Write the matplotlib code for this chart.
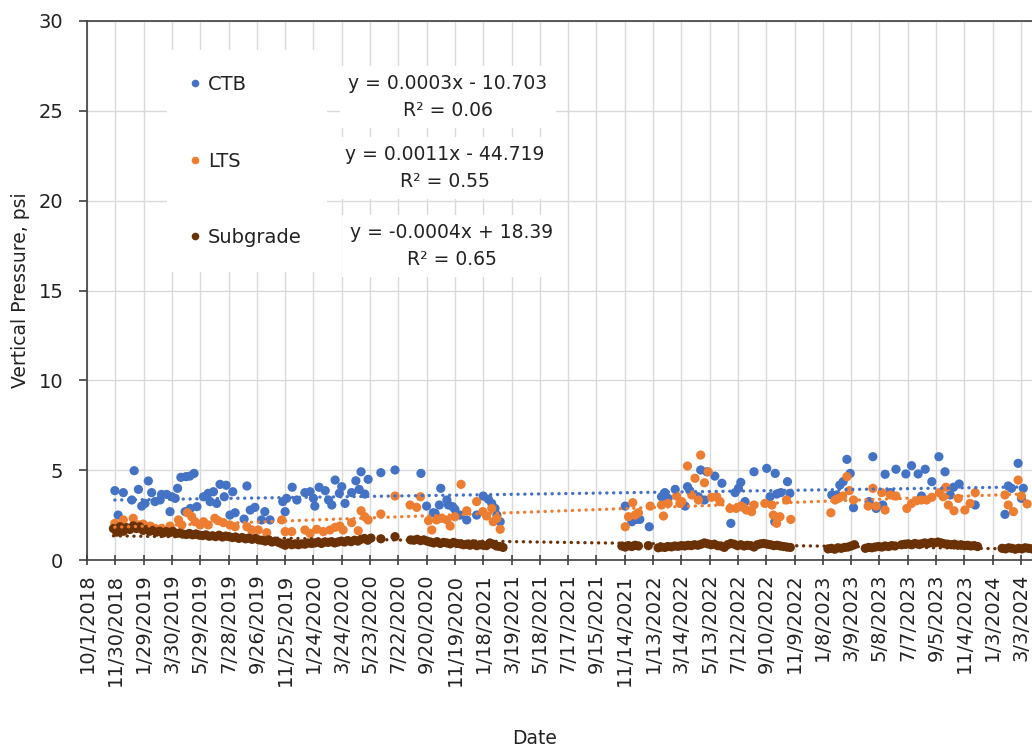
import numpy as np
import pandas as pd
import matplotlib
matplotlib.use("Agg")
import matplotlib.pyplot as plt
from matplotlib.lines import Line2D

START = pd.Timestamp("2018-10-01")

# readings as (days after 10/1/2018, vertical pressure in psi)
ctb_day = [59, 66, 77, 95, 100, 109, 116, 123, 130, 137, 144, 155, 158, 169, 176, 180,
           187, 192, 199, 208, 210, 218, 219, 227, 233, 247, 257, 261, 268, 275, 282, 291,
           295, 303, 309, 314, 333, 339, 346, 356, 370, 377, 388, 415, 420, 423, 435, 445,
           462, 473, 480, 483, 492, 505, 512, 519, 526, 535, 540, 547, 561, 570, 577, 581,
           589, 596, 623, 653, 708, 720, 734, 738, 747, 750, 763, 766, 775, 780, 791, 805,
           826, 840, 851, 858, 865, 869, 876,
           1141, 1155, 1165, 1172, 1192, 1218, 1225, 1232, 1247, 1268, 1273, 1278, 1296,
           1301, 1309, 1314, 1331, 1346, 1365, 1374, 1381, 1386, 1395, 1414, 1441, 1448,
           1458, 1459, 1462, 1471, 1485, 1490,
           1579, 1589, 1596, 1603, 1611, 1618, 1625, 1658, 1666, 1673, 1687, 1692, 1703,
           1715, 1736, 1748, 1762, 1769, 1777, 1791, 1806, 1819, 1830, 1837, 1849, 1883,
           1946, 1953, 1960, 1974, 1981, 1985]
ctb_psi = [3.86, 2.50, 3.75, 3.34, 4.97, 3.93, 3.00, 3.15, 4.40, 3.75, 3.25, 3.34, 3.65,
           3.65, 2.69, 3.52, 3.43, 3.99, 4.60, 2.69, 4.64, 4.67, 2.87, 4.82, 2.97, 3.52,
           3.71, 3.25, 3.80, 3.15, 4.21, 3.52, 4.16, 2.50, 3.80, 2.63, 2.28, 4.12, 2.78,
           2.93, 2.23, 2.69, 2.23, 3.25, 2.69, 3.43, 4.05, 3.34, 3.75, 3.80, 3.43, 3.00,
           4.05, 3.86, 3.34, 3.06, 4.45, 3.71, 4.08, 3.15, 3.75, 4.41, 3.93, 4.91, 3.67,
           4.49, 4.86, 5.01, 4.82, 3.00, 2.63, 2.60, 3.06, 3.99, 3.34, 3.06, 2.97, 2.82,
           2.50, 2.23, 2.50, 3.56, 3.38, 3.15, 2.87, 2.50, 2.13,
           3.00, 2.13, 2.26, 2.26, 1.85, 3.52, 3.75, 3.43, 3.93, 3.00, 4.08, 3.86, 3.52,
           5.01, 3.34, 4.91, 4.67, 4.27, 2.04, 3.75, 3.99, 4.32, 3.25, 4.91, 5.10, 3.52,
           2.13, 4.82, 3.67, 3.75, 4.36, 3.71,
           3.62, 3.62, 4.17, 4.36, 5.60, 4.82, 2.91, 3.25, 5.75, 2.87, 3.06, 4.77, 3.75,
           5.05, 4.79, 5.25, 4.79, 3.56, 5.05, 4.36, 5.75, 4.91, 3.62, 4.05, 4.23, 3.06,
           2.54, 4.12, 3.99, 5.38, 3.43, 3.99]

lts_day = [59, 66, 77, 98, 109, 119, 134, 144, 158, 176, 194, 201, 213, 222, 229, 240,
           247, 257, 271, 278, 289, 303, 314, 339, 349, 363, 381, 413, 420, 434, 462, 473,
           487, 501, 515, 526, 536, 543, 561, 575, 581, 589, 596, 623, 653, 685, 699, 707,
           724, 731, 741, 752, 763, 770, 780, 793, 805, 826, 839, 847, 858, 861, 869, 876,
           1141, 1148, 1157, 1162, 1169, 1194, 1218, 1222, 1232, 1250, 1257, 1261, 1273,
           1282, 1289, 1296, 1301, 1309, 1317, 1324, 1335, 1342, 1363, 1376, 1386, 1391,
           1398, 1409, 1414, 1437, 1452, 1455, 1462, 1469, 1483, 1492,
           1577, 1586, 1593, 1602, 1611, 1616, 1625, 1656, 1666, 1673, 1685, 1692, 1703,
           1715, 1738, 1748, 1759, 1769, 1780, 1791, 1807, 1815, 1821, 1826, 1838, 1847,
           1861, 1872, 1883,
           1946, 1953, 1964, 1974, 1981, 1993]
lts_psi = [2.04, 1.71, 2.23, 2.32, 1.95, 2.00, 1.89, 1.76, 1.76, 1.89, 2.23, 1.95, 2.63,
           2.41, 2.13, 1.95, 2.13, 1.95, 2.32, 2.19, 2.08, 1.95, 1.85, 1.85, 1.67, 1.67,
           1.52, 2.23, 1.58, 1.58, 1.67, 1.48, 1.71, 1.58, 1.67, 1.82, 1.89, 1.67, 2.08,
           1.63, 2.74, 2.41, 2.23, 2.56, 3.56, 3.06, 2.93, 3.52, 2.19, 1.67, 2.23, 2.32,
           2.23, 1.89, 2.41, 4.21, 2.74, 3.25, 2.69, 2.45, 2.87, 2.13, 2.32, 1.71,
           1.85, 2.41, 3.19, 2.50, 2.63, 3.00, 3.06, 2.45, 3.15, 3.56, 3.15, 3.25, 5.23,
           3.62, 4.55, 3.34, 5.84, 4.30, 4.91, 3.49, 3.52, 3.25, 2.87, 2.87, 3.00, 2.93,
           2.78, 2.69, 3.06, 3.15, 3.06, 2.50, 2.04, 2.41, 3.34, 2.26,
           2.63, 3.34, 3.43, 3.56, 4.64, 3.86, 3.34, 3.00, 3.99, 3.00, 3.75, 2.78, 3.62,
           3.56, 2.87, 3.15, 3.30, 3.34, 3.34, 3.49, 3.75, 3.52, 4.05, 3.06, 2.74, 3.43,
           2.78, 3.15, 3.75,
           3.62, 3.06, 2.69, 4.45, 3.56, 3.12]

# subgrade was read about weekly: each run starts on a day and steps 7 days
sub_start = [56, 623, 653, 686, 1134, 1190, 1211, 1571, 1650, 1727, 1940]
sub_psi = [
    [1.75, 1.55, 1.85, 1.60, 1.80, 1.70, 1.90, 1.75, 1.85, 1.65, 1.70,
     1.60, 1.65, 1.55, 1.60, 1.50, 1.58, 1.52, 1.60, 1.48,
     1.50, 1.45, 1.42, 1.48, 1.40, 1.45, 1.38,
     1.36, 1.40, 1.32, 1.35, 1.30, 1.38, 1.28, 1.33, 1.30,
     1.25, 1.28, 1.20, 1.25, 1.18, 1.22, 1.15, 1.20, 1.12,
     1.10, 1.05, 1.12, 1.00, 1.05, 0.98,
     0.90, 0.82, 0.95, 0.85, 0.90, 0.85, 0.90, 0.88, 0.95, 0.92,
     0.95, 1.00, 0.92, 1.00, 0.98, 1.02, 0.95, 1.00, 1.05, 1.00, 1.08, 1.02, 1.10, 1.05,
     1.15, 1.20, 1.10, 1.22],
    [1.18],
    [1.30],
    [1.12, 1.10, 1.15, 1.08, 1.12, 1.05, 1.00, 0.95, 1.02, 0.92, 0.98,
     0.95, 0.90, 0.98, 0.92, 0.90, 0.85, 0.88, 0.82, 0.90, 0.80, 0.85,
     0.82, 0.80, 0.95, 0.88, 0.78, 0.75, 0.70],
    [0.78, 0.72, 0.80, 0.75, 0.82, 0.78],
    [0.80],
    [0.68, 0.72, 0.70, 0.75, 0.73, 0.78, 0.76, 0.80, 0.78, 0.82,
     0.80, 0.85, 0.82, 0.88, 0.95, 0.90, 0.85, 0.88, 0.80, 0.78,
     0.70, 0.85, 0.92, 0.88, 0.80, 0.85, 0.78, 0.82, 0.80, 0.72,
     0.85, 0.90, 0.92, 0.88, 0.85, 0.80, 0.82, 0.78, 0.75, 0.72, 0.70],
    [0.62, 0.65, 0.60, 0.68, 0.65, 0.70, 0.72, 0.78, 0.85],
    [0.65, 0.70, 0.68, 0.72, 0.75, 0.72, 0.78, 0.75, 0.80, 0.78],
    [0.85, 0.88, 0.90, 0.85, 0.92, 0.88, 0.90, 0.95, 0.92, 0.98, 0.95, 1.00,
     0.95, 0.90, 0.88, 0.85, 0.88, 0.82, 0.85, 0.80, 0.82, 0.78, 0.80, 0.75],
    [0.65, 0.62, 0.68, 0.65, 0.60, 0.65, 0.62, 0.68, 0.65, 0.62, 0.60],
]

series_names = ["CTB", "LTS", "Subgrade"]
series_colors = ["#4472C4", "#ED7D31", "#6B3106"]
equations = ["y = 0.0003x - 10.703\nR\u00b2 = 0.06",
             "y = 0.0011x - 44.719\nR\u00b2 = 0.55",
             "y = -0.0004x + 18.39\nR\u00b2 = 0.65"]


def to_dates(days):
    return START + pd.to_timedelta(np.asarray(days, dtype=float), unit="D")


sub_day = []
sub_val = []
for s, vals in zip(sub_start, sub_psi):
    sub_day += [s + 7 * i for i in range(len(vals))]
    sub_val += vals

data = [(ctb_day, ctb_psi), (lts_day, lts_psi), (sub_day, sub_val)]

W, H = 1032, 748
fig = plt.figure(figsize=(W / 100, H / 100), dpi=100)
px_day = 0.4717
x_max = 2030
ax = fig.add_axes([87 / W, 188 / H, x_max * px_day / W, 539 / H])

for (d, v), c in zip(data, series_colors):
    ax.scatter(to_dates(d), v, s=44, color=c, edgecolors="none", zorder=3)

# linear trendlines, dotted like Excel
for (d, v), c in zip(data, series_colors):
    d = np.asarray(d, dtype=float)
    k, b = np.polyfit(d, v, 1)
    xs = np.array([d.min(), d.max()])
    ax.plot(to_dates(xs), k * xs + b, color=c, lw=2.4,
            ls=(0, (0.05, 2.0)), dash_capstyle="round", zorder=4)

ax.set_xlim(START, START + pd.Timedelta(days=x_max))
ax.set_ylim(0, 30)
ax.set_yticks(range(0, 31, 5))

ticks = [START + pd.Timedelta(days=60 * k) for k in range(34)]
ax.set_xticks(ticks)
ax.set_xticklabels([f"{t.month}/{t.day}/{t.year}" for t in ticks], rotation=90)

ax.grid(True, color="#d9d9d9", lw=1)
ax.set_axisbelow(True)
for side in ["left", "bottom", "top"]:
    ax.spines[side].set_color("#404040")
    ax.spines[side].set_linewidth(1.2)
ax.spines["right"].set_visible(False)

ax.tick_params(axis="y", direction="out", length=6, width=1.2, color="#404040",
               labelsize=14, pad=11, labelcolor="#222222")
ax.tick_params(axis="x", direction="inout", length=7.5, width=1.2, color="#404040",
               labelsize=14, pad=6, labelcolor="#222222")

ax.set_ylabel("Vertical Pressure, psi", fontsize=13.5, color="#222222")
ax.yaxis.set_label_coords(-0.06, 0.5)
fig.text(535 / W, 1 - 738 / H, "Date", fontsize=13.5, color="#222222",
         ha="center", va="center")

# legend box
handles = [Line2D([], [], marker="o", ls="none", ms=5.5, color=c, mec="none")
           for c in series_colors]
leg = ax.legend(handles, series_names, loc="upper left",
                bbox_to_anchor=(167 / W, 1 - 50 / H), bbox_transform=fig.transFigure,
                borderaxespad=0, fontsize=14, labelspacing=2.95, borderpad=1.3,
                handlelength=0.3, handletextpad=0.5, frameon=True, fancybox=False)
leg.get_frame().set_facecolor("white")
leg.get_frame().set_edgecolor("none")
leg.get_frame().set_alpha(1)
for t in leg.get_texts():
    t.set_color("#222222")

# trendline equation labels
eq_pos = [(448, 97), (445, 168), (452, 246)]
for (x, y), txt in zip(eq_pos, equations):
    fig.text(x / W, 1 - y / H, txt, fontsize=13.5, color="#222222", ha="center",
             va="center", multialignment="center", linespacing=1.5,
             bbox=dict(facecolor="white", edgecolor="none", pad=6))

fig.savefig("out.png", dpi=100)
